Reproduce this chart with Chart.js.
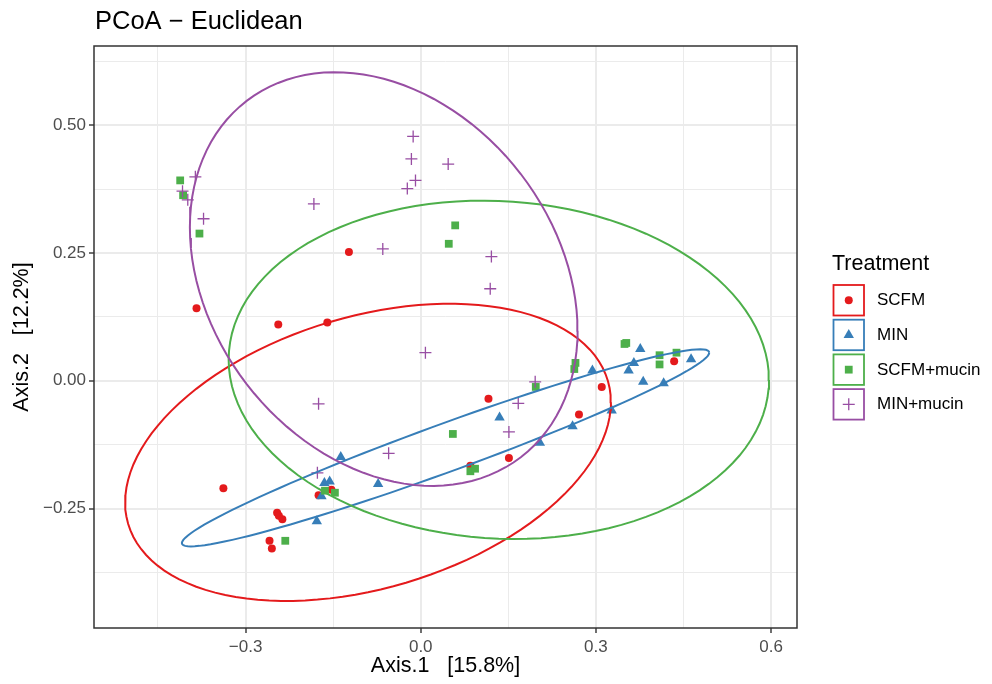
<!DOCTYPE html>
<html>
<head>
<meta charset="utf-8">
<title>PCoA − Euclidean</title>
<script src="https://cdn.jsdelivr.net/npm/chart.js@4.4.1/dist/chart.umd.min.js"></script>
<style>
  html, body { margin: 0; padding: 0; background: #ffffff; }
  #wrap { width: 992px; height: 684px; }
</style>
</head>
<body>
<div id="wrap"><canvas id="pcoa" width="992" height="684"></canvas></div>
<script>
const ctx = document.getElementById('pcoa');

// sample scores on Axis.1 / Axis.2, one pair of arrays per treatment
const scfmX = [-0.123, -0.384, -0.244, -0.160, 0.116, 0.151, 0.085, -0.153, -0.175, -0.338, -0.246, -0.243, -0.237, -0.259, -0.255, 0.310, 0.271, 0.434];
const scfmY = [0.252, 0.142, 0.110, 0.114, -0.035, -0.151, -0.166, -0.213, -0.224, -0.210, -0.258, -0.264, -0.271, -0.313, -0.328, -0.012, -0.066, 0.038];

const minX = [0.135, -0.137, -0.073, -0.165, -0.156, -0.170, -0.178, 0.376, 0.463, 0.365, 0.356, 0.294, 0.381, 0.416, 0.327, 0.260, 0.204];
const minY = [-0.072, -0.149, -0.202, -0.200, -0.197, -0.226, -0.275, 0.062, 0.042, 0.035, 0.020, 0.020, -0.002, -0.005, -0.058, -0.089, -0.121];

const scfmMucinX = [-0.412, -0.407, -0.379, 0.059, 0.048, 0.055, 0.085, 0.093, -0.164, -0.147, -0.232, 0.352, 0.349, 0.409, 0.438, 0.409, 0.265, 0.263, 0.197];
const scfmMucinY = [0.392, 0.363, 0.288, 0.304, 0.268, -0.104, -0.177, -0.172, -0.215, -0.219, -0.313, 0.074, 0.072, 0.050, 0.055, 0.032, 0.035, 0.023, -0.012];

const minMucinX = [-0.386, -0.408, -0.399, -0.372, -0.183, -0.013, -0.016, 0.047, -0.009, -0.023, -0.065, 0.121, 0.119, 0.008, -0.175, 0.167, 0.151, -0.055, -0.177, 0.196];
const minMucinY = [0.399, 0.371, 0.354, 0.317, 0.346, 0.478, 0.434, 0.424, 0.392, 0.376, 0.258, 0.243, 0.180, 0.055, -0.045, -0.044, -0.100, -0.142, -0.180, -0.002];

const treatments = ['SCFM', 'MIN', 'SCFM+mucin', 'MIN+mucin'];

// 95% ellipses: centre, half-extent on each axis, and x/y correlation
const ellipseCenterX = [-0.0903, 0.0425, 0.1337, -0.0634];
const ellipseCenterY = [-0.140, -0.1312, 0.0215, 0.199];
const ellipseSpreadX = [0.416, 0.4516, 0.4627, 0.332];
const ellipseSpreadY = [0.2907, 0.1928, 0.3309, 0.4046];
const ellipseCorr = [0.337, 0.966, -0.06, -0.25];

// axis breaks
const xMajor = [-0.3, 0, 0.3, 0.6];
const xTickLabels = ['\u22120.3', '0.0', '0.3', '0.6'];
const xMinor = [-0.45, -0.15, 0.15, 0.45];
const yMajor = [-0.25, 0, 0.25, 0.5];
const yTickLabels = ['\u22120.25', '0.00', '0.25', '0.50'];
const yMinor = [-0.375, -0.125, 0.125, 0.375, 0.625];

const colours = ['#E41A1C', '#377EB8', '#4DAF4A', '#984EA3'];
const shapes = [
  { pointStyle: 'circle', radius: 4, borderWidth: 0 },
  { pointStyle: 'triangle', radius: 6, borderWidth: 0 },
  { pointStyle: 'rect', radius: 5.5, borderWidth: 0 },
  { pointStyle: 'cross', radius: 6, borderWidth: 1.3 }
];

const FONT = '"Liberation Sans", Arial, sans-serif';
Chart.defaults.font.family = FONT;

const groupsX = [scfmX, minX, scfmMucinX, minMucinX];
const groupsY = [scfmY, minY, scfmMucinY, minMucinY];

// outline of one ellipse as a closed path in data units
function ellipsePoints(i) {
  const pts = [];
  const r = ellipseCorr[i];
  const s = Math.sqrt(1 - r * r);
  const n = 120;
  for (let k = 0; k <= n; k++) {
    const t = (2 * Math.PI * k) / n;
    pts.push({
      x: ellipseCenterX[i] + ellipseSpreadX[i] * Math.cos(t),
      y: ellipseCenterY[i] + ellipseSpreadY[i] * (r * Math.cos(t) + s * Math.sin(t))
    });
  }
  return pts;
}

const datasets = [];
treatments.forEach((name, i) => {
  datasets.push({
    label: name + ' ellipse',
    data: ellipsePoints(i),
    showLine: true,
    fill: false,
    tension: 0,
    borderColor: colours[i],
    borderWidth: 2,
    pointRadius: 0,
    order: 3 - i
  });
});
treatments.forEach((name, i) => {
  datasets.push({
    label: name,
    data: groupsX[i].map((x, k) => ({ x: x, y: groupsY[i][k] })),
    pointStyle: shapes[i].pointStyle,
    pointRadius: shapes[i].radius,
    pointBorderWidth: shapes[i].borderWidth,
    backgroundColor: colours[i],
    borderColor: colours[i],
    showLine: false,
    order: 7 - i
  });
});

function gridStyle(major, minor) {
  const isMinor = (c) => c.tick && minor.includes(c.tick.value);
  return {
    color: '#EBEBEB',
    lineWidth: (c) => (isMinor(c) ? 1 : 2),
    drawTicks: true,
    tickLength: 5,
    tickWidth: 1.4,
    tickColor: (c) => (isMinor(c) ? 'rgba(0,0,0,0)' : '#333333')
  };
}

// panel frame, title and the treatment key
const decorations = {
  id: 'decorations',
  afterDraw(chart) {
    const c = chart.ctx;
    const a = chart.chartArea;
    c.save();
    c.strokeStyle = '#333333';
    c.lineWidth = 1.5;
    c.strokeRect(a.left, a.top, a.right - a.left, a.bottom - a.top);

    c.fillStyle = '#000000';
    c.textAlign = 'left';
    c.textBaseline = 'alphabetic';
    c.font = '25.5px ' + FONT;
    c.fillText('PCoA \u2212 Euclidean', a.left + 1, 28.5);

    c.font = '21.5px ' + FONT;
    c.fillText('Treatment', 832, 270);

    treatments.forEach((name, i) => {
      const top = 285 + i * 34.7;
      c.strokeStyle = colours[i];
      c.lineWidth = 1.8;
      c.strokeRect(833.5, top, 30.5, 30.5);

      c.fillStyle = colours[i];
      c.strokeStyle = colours[i];
      c.lineWidth = shapes[i].borderWidth || 1;
      Chart.helpers.drawPoint(c, {
        pointStyle: shapes[i].pointStyle,
        radius: shapes[i].radius,
        rotation: 0,
        borderWidth: shapes[i].borderWidth
      }, 848.75, top + 15.25);

      c.fillStyle = '#000000';
      c.font = '17px ' + FONT;
      c.textBaseline = 'middle';
      c.fillText(name, 877, top + 15.5);
      c.textBaseline = 'alphabetic';
    });
    c.restore();
  }
};

new Chart(ctx, {
  type: 'scatter',
  data: { datasets: datasets },
  plugins: [decorations],
  options: {
    responsive: false,
    animation: false,
    devicePixelRatio: 1,
    layout: { padding: { top: 46, right: 195, left: 0, bottom: 0 } },
    plugins: {
      legend: { display: false },
      tooltip: { enabled: false },
      title: { display: false }
    },
    scales: {
      x: {
        type: 'linear',
        min: -0.5596,
        max: 0.6444,
        afterBuildTicks: (scale) => {
          scale.ticks = xMajor.concat(xMinor).sort((p, q) => p - q).map(v => ({ value: v }));
        },
        afterFit: (scale) => { scale.height = 56; },
        ticks: {
          autoSkip: false,
          maxRotation: 0,
          padding: 4,
          color: '#4D4D4D',
          font: { size: 17 },
          callback: (value) => {
            const i = xMajor.indexOf(value);
            return i >= 0 ? xTickLabels[i] : '';
          }
        },
        grid: gridStyle(xMajor, xMinor),
        border: { display: false },
        title: {
          display: true,
          text: 'Axis.1   [15.8%]',
          color: '#000000',
          font: { size: 21.5, lineHeight: 1.2 },
          padding: { top: 0, bottom: 5 }
        }
      },
      y: {
        type: 'linear',
        min: -0.4836,
        max: 0.6549,
        afterBuildTicks: (scale) => {
          scale.ticks = yMajor.concat(yMinor).sort((p, q) => p - q).map(v => ({ value: v }));
        },
        afterFit: (scale) => { scale.width = 94; },
        ticks: {
          autoSkip: false,
          padding: 3,
          color: '#4D4D4D',
          font: { size: 17 },
          callback: (value) => {
            const i = yMajor.indexOf(value);
            return i >= 0 ? yTickLabels[i] : '';
          }
        },
        grid: gridStyle(yMajor, yMinor),
        border: { display: false },
        title: {
          display: true,
          text: 'Axis.2   [12.2%]',
          color: '#000000',
          font: { size: 21.5, lineHeight: 1.2 },
          padding: { top: 9, bottom: 0 }
        }
      }
    }
  }
});
</script>
</body>
</html>
